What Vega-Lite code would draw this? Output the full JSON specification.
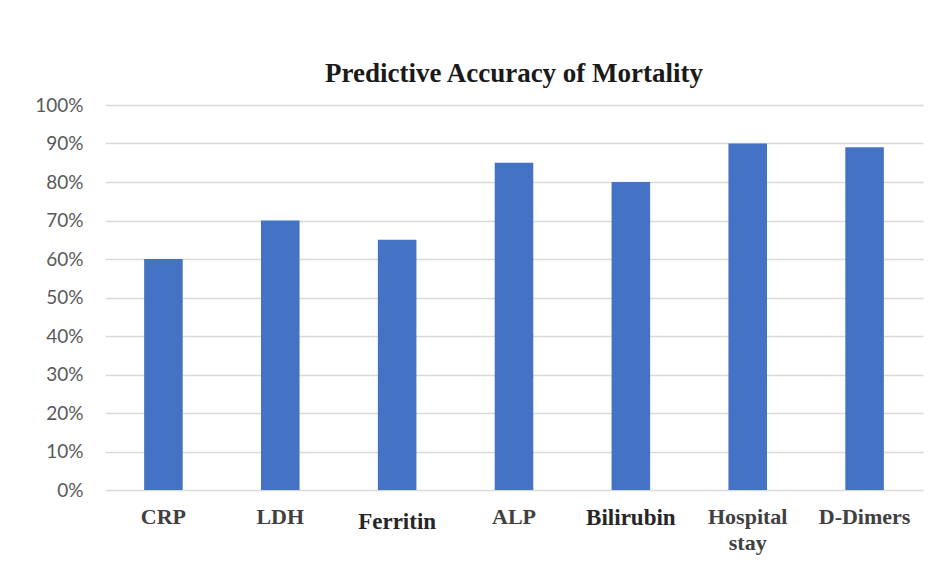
{
  "$schema": "https://vega.github.io/schema/vega-lite/v6.json",
  "autosize": {"type": "none"},
  "width": 818,
  "height": 385,
  "padding": {"left": 105, "top": 105, "right": 22, "bottom": 75},
  "background": "white",
  "title": {
    "text": "Predictive Accuracy of Mortality",
    "font": "Liberation Serif",
    "fontWeight": "bold",
    "fontSize": 27,
    "color": "#1a1a1a",
    "anchor": "middle",
    "offset": 8
  },
  "data": {
    "values": [
      {"factor": "CRP", "accuracy": 0.60},
      {"factor": "LDH", "accuracy": 0.70},
      {"factor": "Ferritin", "accuracy": 0.65},
      {"factor": "ALP", "accuracy": 0.85},
      {"factor": "Bilirubin", "accuracy": 0.80},
      {"factor": "Hospital stay", "accuracy": 0.90},
      {"factor": "D-Dimers", "accuracy": 0.89}
    ]
  },
  "mark": {"type": "bar", "color": "#4472C4"},
  "encoding": {
    "x": {
      "field": "factor",
      "type": "nominal",
      "sort": null,
      "scale": {"paddingInner": 0.67, "paddingOuter": 0.335},
      "axis": {
        "title": null,
        "labelAngle": 0,
        "labelFont": "Liberation Serif",
        "labelFontWeight": "bold",
        "labelFontSize": {"condition": {"test": "datum.value == 'Ferritin' || datum.value == 'Bilirubin'", "value": 23}, "value": 22},
        "labelColor": {"condition": {"test": "datum.value == 'Ferritin' || datum.value == 'Bilirubin'", "value": "#262626"}, "value": "#404040"},
        "labelPadding": {"condition": {"test": "datum.value == 'Ferritin'", "value": 20}, "value": 16},
        "labelExpr": "datum.value == 'Hospital stay' ? ['Hospital', 'stay'] : datum.value",
        "labelLineHeight": 26,
        "labelBaseline": "top",
        "labelOverlap": false,
        "ticks": false,
        "domain": false
      }
    },
    "y": {
      "field": "accuracy",
      "type": "quantitative",
      "scale": {"domain": [0, 1]},
      "axis": {
        "title": null,
        "format": ".0%",
        "values": [0, 0.1, 0.2, 0.3, 0.4, 0.5, 0.6, 0.7, 0.8, 0.9, 1.0],
        "labelOverlap": false,
        "labelFont": "Lato",
        "labelFontSize": 19,
        "labelColor": "#595959",
        "labelPadding": 22,
        "ticks": false,
        "domain": false,
        "gridColor": "#d9d9d9",
        "gridWidth": 1.5
      }
    }
  },
  "config": {
    "view": {"stroke": null}
  }
}
